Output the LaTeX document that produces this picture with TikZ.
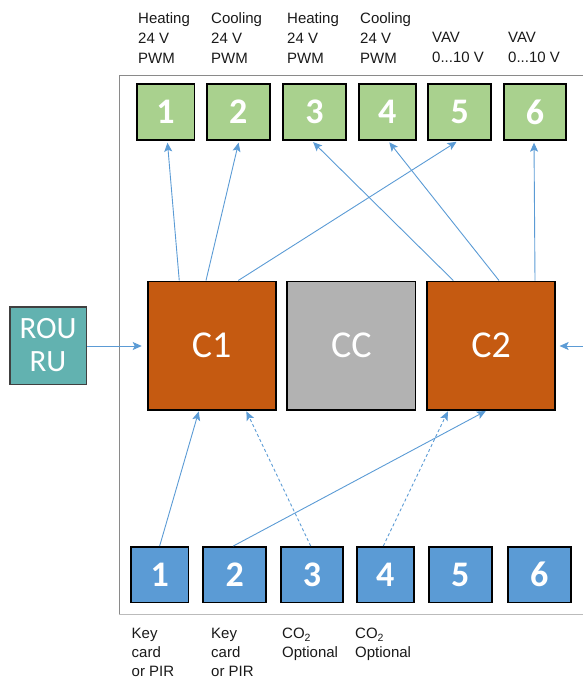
\documentclass[tikz,border=0pt]{standalone}
\usepackage{fontspec}
\setmainfont{Liberation Sans}
\newfontfamily\calib{Carlito}
\usetikzlibrary{arrows.meta,calc}
\definecolor{gfill}{HTML}{A9D18E}
\definecolor{bfill}{HTML}{5B9BD5}
\definecolor{ofill}{HTML}{C55A11}
\definecolor{cfill}{HTML}{B2B2B2}
\definecolor{tfill}{HTML}{62B2B0}
\definecolor{arrc}{HTML}{5B9BD5}
\definecolor{frameA}{HTML}{8A8A8A}
\definecolor{frameB}{HTML}{BBBBBB}
\begin{document}
\begin{tikzpicture}[x=1pt,y=-1pt,
  box/.style={draw=black, line width=1.8pt, inner sep=0pt, text=white},
  gbox/.style={box, fill=gfill, minimum height=55.6pt, font=\calib\bfseries\fontsize{36}{36}\selectfont},
  bbox/.style={box, fill=bfill, minimum height=55.5pt, font=\calib\bfseries\fontsize{36}{36}\selectfont},
  cbox/.style={box, minimum width=128.2pt, minimum height=128.2pt, font=\calib\fontsize{38}{38}\selectfont},
  lbl/.style={anchor=north west, inner sep=0pt, align=left, text=black!90, font=\fontsize{15}{20}\selectfont},
  lblb/.style={anchor=north west, inner sep=0pt, align=left, text=black!90, font=\fontsize{15}{19}\selectfont},
  arr/.style={draw=arrc, line width=0.9pt, -{Stealth[length=9pt,width=8pt,inset=2pt]}},
  darr/.style={arr, dash pattern=on 3pt off 2.5pt}
]
\useasboundingbox (0,0) rectangle (583,680);

% frame
\draw[frameA, line width=1pt] (600,75) -| (119,614.5);
\draw[frameB, line width=1.2pt] (119,614.5) -- (600,614.5);

% top labels
\node[lbl] (t1) at (138,12) {Heating\\24 V\\PWM};
\node[lbl] (t2) at (211,12) {Cooling\\24 V\\PWM};
\node[lbl] (t3) at (287,12) {Heating\\24 V\\PWM};
\node[lbl] (t4) at (360,12) {Cooling\\24 V\\PWM};
\node[lbl] (t5) at (432,32) {VAV\\0...10 V};
\node[lbl] (t6) at (508,32) {VAV\\0...10 V};

% green outputs
\node[gbox, minimum width=57.8pt] (g1) at (165.5,112) {1};
\node[gbox, minimum width=62.9pt] (g2) at (238.35,112) {2};
\node[gbox, minimum width=62.6pt] (g3) at (314.5,112) {3};
\node[gbox, minimum width=56.9pt] (g4) at (387.35,112) {4};
\node[gbox, minimum width=62.9pt] (g5) at (459.65,112) {5};
\node[gbox, minimum width=61.6pt] (g6) at (535,112) {6};

% controllers
\node[cbox, fill=ofill] (C1) at (211.75,345.5) {C1};
\node[cbox, fill=cfill] (CC) at (351.35,345.5) {CC};
\node[cbox, fill=ofill] (C2) at (491.1,345.5) {C2};

% ROU RU
\node[draw=black!75, line width=1.5pt, fill=tfill, text=white, inner sep=0pt,
      minimum width=76.5pt, minimum height=77.5pt, align=center,
      font=\calib\fontsize{31}{33}\selectfont] (rou) at (48,345.5) {ROU\\RU};

% blue inputs
\node[bbox, minimum width=57.5pt] (b1) at (159.65,574.65) {1};
\node[bbox, minimum width=62.9pt] (b2) at (234.65,574.65) {2};
\node[bbox, minimum width=62.2pt] (b3) at (312,574.65) {3};
\node[bbox, minimum width=57.2pt] (b4) at (385.2,574.65) {4};
\node[bbox, minimum width=63.2pt] (b5) at (460.2,574.65) {5};
\node[bbox, minimum width=63.2pt] (b6) at (539.2,574.65) {6};

% bottom labels
\node[lblb] (l1) at (131.5,628) {Key\\card\\or PIR};
\node[lblb] (l2) at (211,628) {Key\\card\\or PIR};
\node[lblb] (l3) at (282,628) {CO\textsubscript{2}\\Optional};
\node[lblb] (l4) at (355,628) {CO\textsubscript{2}\\Optional};

% arrows to outputs
\draw[arr, shorten >=2pt] ([xshift=-32.5pt]C1.north) -- ([xshift=1.8pt]g1.south);
\draw[arr, shorten >=2pt] ([xshift=-5.75pt]C1.north) -- ([xshift=0.7pt]g2.south);
\draw[arr, shorten >=2pt] ([xshift=26.5pt]C1.north) -- ([xshift=-1.4pt]g5.south);
\draw[arr, shorten >=2pt] ([xshift=-37.8pt]C2.north) -- ([xshift=-2.8pt]g3.south);
\draw[arr, shorten >=2pt] ([xshift=7.9pt]C2.north) -- ([xshift=0.7pt]g4.south);
\draw[arr, shorten >=2pt] ([xshift=43.9pt]C2.north) -- ([xshift=-1pt]g6.south);

% side arrows
\coordinate (rin) at (600,346);
\draw[arr, shorten >=5pt] (rou.east |- 0,346) -- (C1.west |- 0,346);
\draw[arr, shorten >=3.5pt] (rin) -- (C2.east |- 0,346);

% arrows from inputs
\draw[arr, shorten >=1pt] (b1.north) -- ([xshift=-12.75pt]C1.south);
\draw[arr, shorten >=1pt] ([xshift=-1.3pt]b2.north) -- ([xshift=-4.4pt]C2.south);
\draw[darr, shorten >=1pt] ([xshift=-1.3pt]b3.north) -- ([xshift=34.25pt]C1.south);
\draw[darr, shorten >=1pt] ([xshift=-1.9pt]b4.north) -- ([xshift=-42.8pt]C2.south);
\end{tikzpicture}
\end{document}
